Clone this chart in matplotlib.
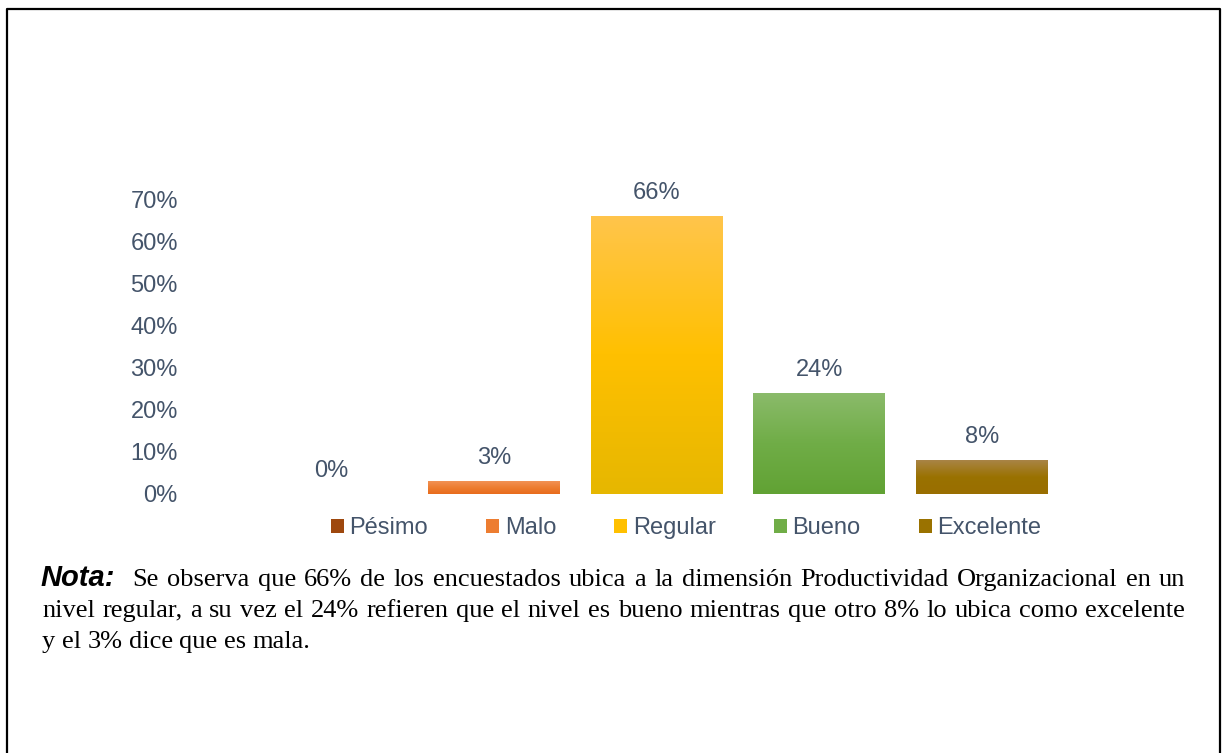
import numpy as np
import matplotlib
matplotlib.use("Agg")
import matplotlib.pyplot as plt
from matplotlib.colors import LinearSegmentedColormap
from matplotlib.lines import Line2D
from matplotlib.ticker import PercentFormatter

# --- data ---
categories = ["Pésimo", "Malo", "Regular", "Bueno", "Excelente"]
values = [0, 3, 66, 24, 8]
yticks = [0, 10, 20, 30, 40, 50, 60, 70]

note_lines = [
    ["Se", "observa", "que", "66%", "de", "los", "encuestados", "ubica", "a", "la", "dimensión",
     "Productividad", "Organizacional", "en", "un"],
    ["nivel", "regular,", "a", "su", "vez", "el", "24%", "refieren", "que", "el", "nivel", "es",
     "bueno", "mientras", "que", "otro", "8%", "lo", "ubica", "como", "excelente"],
    ["y", "el", "3%", "dice", "que", "es", "mala."],
]

# gradient stops (top, middle, bottom) per bar
grads = [
    ["#A8521C", "#9E480E", "#8C3C08"],
    ["#F29255", "#ED7D31", "#E86C1C"],
    ["#FFC54C", "#FFC000", "#E6B700"],
    ["#8BBB6B", "#70AD47", "#61A234"],
    ["#A98446", "#9A7200", "#996E00"],
]
TXT = "#44546A"

W, H = 1225, 753
fig = plt.figure(figsize=(W / 100, H / 100), dpi=100)
ax = fig.add_axes([250 / W, 1 - 494 / H, 813 / W, 295 / H])

x = np.arange(len(categories))
bars = ax.bar(x, values, width=0.81, color=[g[1] for g in grads], zorder=2)

# gradient fill clipped to each bar
for b, g in zip(bars, grads):
    h = b.get_height()
    if h <= 0:
        continue
    cmap = LinearSegmentedColormap.from_list("g", [g[2], g[1], g[0]])
    grad = np.linspace(0, 1, 256).reshape(-1, 1)
    im = ax.imshow(grad, cmap=cmap, aspect="auto", origin="lower",
                   extent=[b.get_x(), b.get_x() + b.get_width(), 0, h], zorder=3)
    im.set_clip_path(b)

for xi, v in zip(x, values):
    ax.annotate(f"{v}%", (xi, v), xytext=(0, 16.5), textcoords="offset points",
                ha="center", va="center", fontsize=17, color=TXT, family="Liberation Sans")

ax.set_xlim(-0.5, len(categories) - 0.5)
ax.set_ylim(0, 70)
ax.set_yticks(yticks)
ax.yaxis.set_major_formatter(PercentFormatter(decimals=0))
ax.set_xticks([])
ax.tick_params(axis="y", length=0, pad=52, labelsize=17, labelcolor=TXT)
for lab in ax.get_yticklabels():
    lab.set_family("Liberation Sans")
for s in ax.spines.values():
    s.set_visible(False)

leg = fig.legend(bars, categories, loc="center", bbox_to_anchor=(686 / W, 1 - 528 / H),
                 ncol=5, frameon=False, handlelength=0.55, handleheight=0.55,
                 handletextpad=0.25, columnspacing=2.45,
                 prop={"family": "Liberation Sans", "size": 17})
for t in leg.get_texts():
    t.set_color(TXT)

# --- justified note text ---
renderer = fig.canvas.get_renderer()
left, right = 42, 1185
baselines = [586, 617, 648]


def px(xp, yp):
    return xp / W, 1 - yp / H


nota = fig.text(*px(left - 2, baselines[0]), "Nota:", fontsize=21, fontweight="bold",
                fontstyle="italic", family="Liberation Sans", va="baseline", ha="left")
nota_w = nota.get_window_extent(renderer).width

for i, words in enumerate(note_lines):
    start = left + (nota_w + 16 if i == 0 else 0)
    objs = [fig.text(0, 0, w, fontsize=19, family="Liberation Serif", va="baseline", ha="left")
            for w in words]
    widths = [o.get_window_extent(renderer).width for o in objs]
    if i < len(note_lines) - 1:
        gap = (right - start - sum(widths)) / (len(words) - 1)
    else:
        gap = 6.5
    xp = start
    for o, wd in zip(objs, widths):
        o.set_position(px(xp, baselines[i]))
        xp += wd + gap

# frame around the figure (left, top, right)
fig.add_artist(Line2D([6.5 / W, 6.5 / W, 1219.5 / W, 1219.5 / W],
                      [-0.01, 1 - 9 / H, 1 - 9 / H, -0.01],
                      transform=fig.transFigure, color="black", lw=1.6))

fig.savefig("out.png", dpi=100)
